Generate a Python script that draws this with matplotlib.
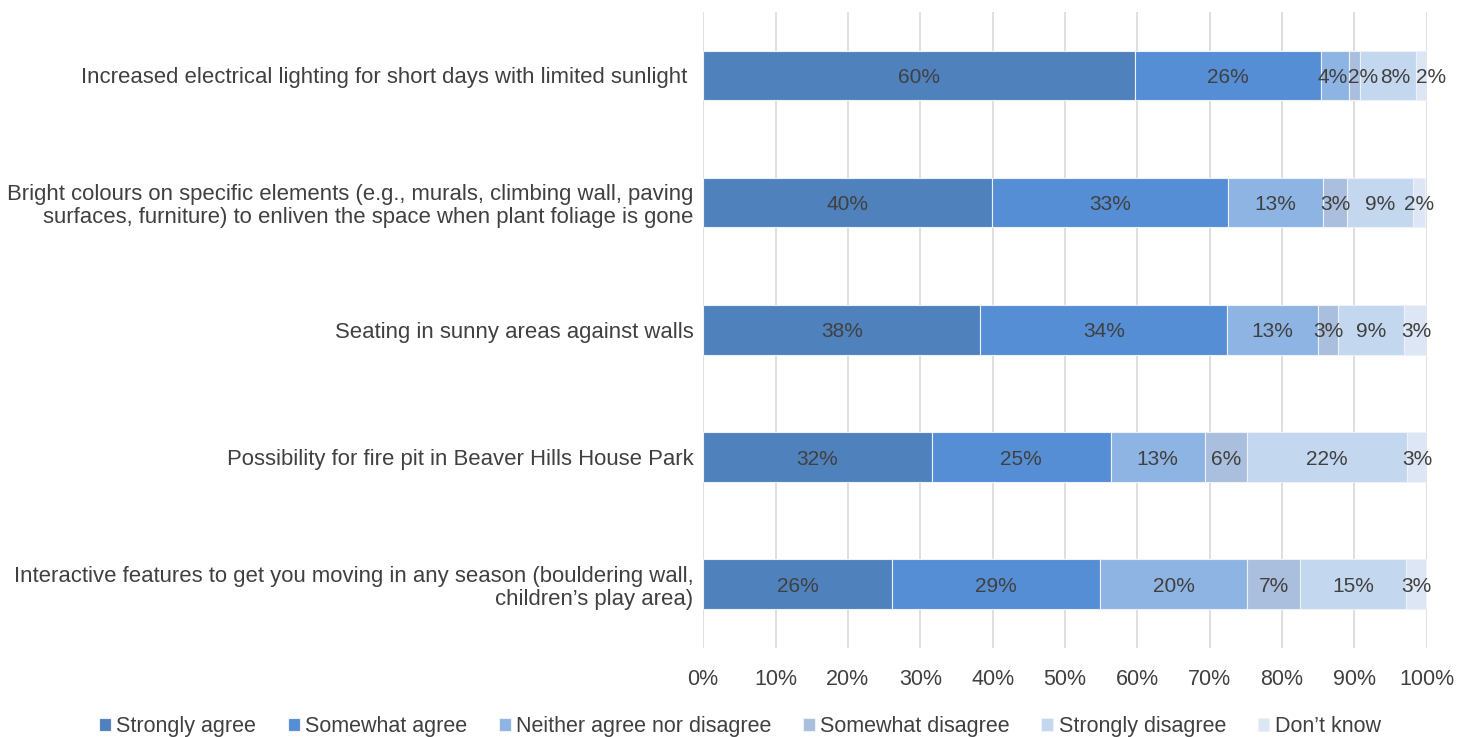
import matplotlib
matplotlib.use("Agg")
import matplotlib.pyplot as plt
import numpy as np

plt.rcParams['font.family'] = ['Liberation Sans', 'DejaVu Sans']

categories = [
    "Increased electrical lighting for short days with limited sunlight ",
    "Bright colours on specific elements (e.g., murals, climbing wall, paving\nsurfaces, furniture) to enliven the space when plant foliage is gone",
    "Seating in sunny areas against walls",
    "Possibility for fire pit in Beaver Hills House Park",
    "Interactive features to get you moving in any season (bouldering wall,\nchildren\u2019s play area)",
]
series_names = ["Strongly agree", "Somewhat agree", "Neither agree nor disagree",
                "Somewhat disagree", "Strongly disagree", "Don\u2019t know"]
strongly_agree = [59.7, 39.9, 38.3, 31.6, 26.1]
somewhat_agree = [25.7, 32.6, 34.1, 24.7, 28.7]
neither = [3.9, 13.1, 12.6, 13.0, 20.4]
somewhat_disagree = [1.5, 3.4, 2.7, 5.8, 7.3]
strongly_disagree = [7.7, 9.1, 9.2, 22.2, 14.6]
dont_know = [1.5, 1.7, 3.2, 2.8, 2.8]
xtick_labels = ["0%", "10%", "20%", "30%", "40%", "50%", "60%", "70%", "80%", "90%", "100%"]

colors = ["#4F81BD", "#558ED5", "#8EB4E3", "#A9BFDD", "#C3D7EF", "#DCE6F4"]
series = [strongly_agree, somewhat_agree, neither, somewhat_disagree, strongly_disagree, dont_know]

# pixel nudges for crowded data labels (row, series) -> dx in pixels
label_nudge_px = {(0, 2): -3, (0, 3): 8.5, (0, 4): 7, (0, 5): 9.5}

fig = plt.figure(figsize=(14.71, 7.37), dpi=100)
ax = fig.add_axes([0.478, 0.121, 0.492, 0.863])

y = np.arange(len(categories))
left = np.zeros(len(categories))
text_color = "#404040"
for si, (name, vals, c) in enumerate(zip(series_names, series, colors)):
    vals = np.array(vals)
    ax.barh(y, vals, left=left, height=0.39, color=c, label=name,
            edgecolor="#EEF2F8", linewidth=0.8, zorder=3)
    for ri, (yi, l, v) in enumerate(zip(y, left, vals)):
        dx = label_nudge_px.get((ri, si), 0) * 0.72
        ax.annotate(f"{int(v + 0.5)}%", xy=(l + v / 2, yi), xytext=(dx, 0),
                    textcoords="offset points", ha="center", va="center_baseline",
                    fontsize=15, color=text_color, zorder=4)
    left = left + vals

ax.set_xlim(0, 100)
ax.set_ylim(len(categories) - 0.5, -0.5)
ax.set_xticks(np.arange(0, 101, 10))
ax.set_xticklabels(xtick_labels, fontsize=15.5, color=text_color)
ax.set_yticks(y)
ax.set_yticklabels(categories, fontsize=15.9, color=text_color, linespacing=1.12)
ax.tick_params(axis="both", length=0)
ax.tick_params(axis="x", pad=15)
ax.tick_params(axis="y", pad=7)
ax.grid(axis="x", color="#D9D9D9", linewidth=1.2, zorder=0)
for s in ax.spines.values():
    s.set_visible(False)

handles, labels = ax.get_legend_handles_labels()
fig.legend(handles, labels, loc="center", bbox_to_anchor=(0.503, 0.014), ncol=6,
           frameon=False, fontsize=15.5, handlelength=0.55, handleheight=0.55,
           handletextpad=0.25, columnspacing=1.47, labelcolor=text_color)

fig.savefig("out.png", dpi=100)
